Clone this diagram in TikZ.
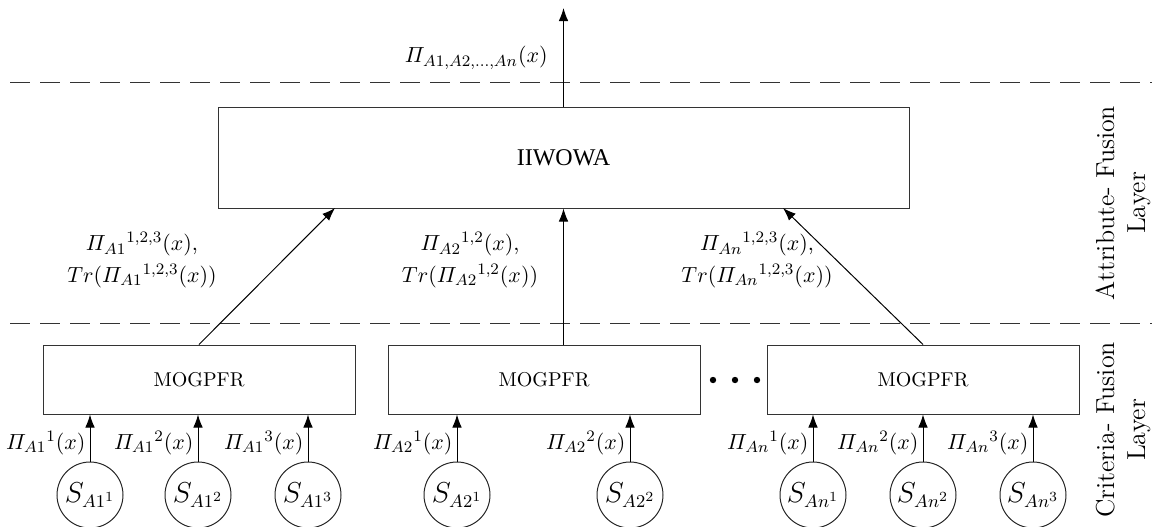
\documentclass[tikz,border=0pt,11pt]{standalone}
\usepackage{amsmath}
\usepackage[no-math]{fontspec}
\newfontfamily\timesfont{Liberation Serif}
\usetikzlibrary{arrows.meta}

\begin{document}
\begin{tikzpicture}[x=0.5pt, y=-0.5pt,
      fuse/.style={draw=black!80, line width=0.5pt, minimum height=34.5pt, inner sep=0pt},
      src/.style={draw=black!85, line width=0.5pt, circle, minimum size=33pt, inner sep=0pt, font=\fontsize{13.5}{15}\selectfont},
      lyr/.style={draw=black!80, line width=0.5pt, dash pattern=on 10pt off 5pt},
      feed/.style={-{Latex[length=6.5pt,width=4.8pt]}, line width=0.5pt},
      lbl/.style={inner sep=2pt},
      side/.style={rotate=90, align=center, font=\fontsize{13}{15.5}\selectfont, inner sep=0pt}]
    \useasboundingbox (0,0) rectangle (1152,526);
    \draw[lyr] (10,82) -- (1152,82);
    \draw[lyr] (10,323) -- (1152,323);
    \node[fuse, minimum width=345.5pt, minimum height=50.5pt, font=\timesfont\large] (iiwowa) at (563.5,157.5) {IIWOWA};
    \foreach \m/\cx in {1/199, 2/544, n/923} {
      \node[fuse, minimum width=156pt, font=\small] (mog\m) at (\cx,379.5) {MOGPFR};
    }
    \foreach \dx in {713,735,757} {
      \fill (\dx,380) circle (1.6pt);
    }
    \foreach \id/\cx/\a/\k/\m in {a11/90/A1/1/1, a12/198/A1/2/1, a13/308/A1/3/1, a21/457/A2/1/2, a22/630/A2/2/2, an1/813/An/1/n, an2/923/An/2/n, an3/1033/An/3/n} {
      \node[src] (s\id) at (\cx,495) {$S_{\a^{\k}}$};
      \draw[feed] (s\id) -- node[lbl, left, pos=0.4] (p\id) {$\varPi_{\a}{}^{\k}(x)$} (s\id |- mog\m.south);
    }
    \coordinate (in1) at (335,208);
    \coordinate (inn) at (783,208);
    \coordinate (out) at (563.5,8);
    \draw[feed] (mog1.north) -- (in1);
    \draw[feed] (iiwowa.south |- mog2.north) -- (iiwowa.south);
    \draw[feed] (mogn.north) -- (inn);
    \draw[feed] (iiwowa.north) -- (out);
    \node[lbl, anchor=east] (fused) at (552,58) {$\varPi_{A1,A2,\ldots,An}(x)$};
    \node[align=center] (tr1) at (142,260) {$\varPi_{A1}{}^{1,2,3}(x)$,\\[2pt] $Tr(\varPi_{A1}{}^{1,2,3}(x))$};
    \node[align=center] (tr2) at (470,260) {$\varPi_{A2}{}^{1,2}(x)$,\\[2pt] $Tr(\varPi_{A2}{}^{1,2}(x))$};
    \node[align=center] (trn) at (757,260) {$\varPi_{An}{}^{1,2,3}(x)$,\\[2pt] $Tr(\varPi_{An}{}^{1,2,3}(x))$};
    \node[side] (attr) at (1123,203) {Attribute- Fusion\\Layer};
    \node[side] (crit) at (1123,430) {Criteria- Fusion\\Layer};
  \end{tikzpicture}
\end{document}
